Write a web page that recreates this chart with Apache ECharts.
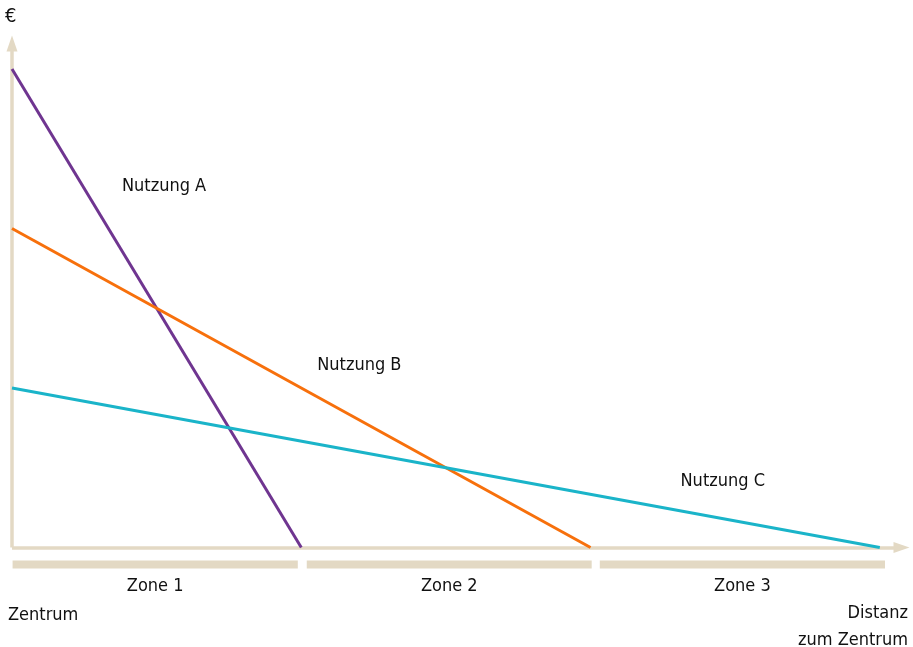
<!DOCTYPE html>
<html>
<head>
<meta charset="utf-8">
<script src="https://cdn.jsdelivr.net/npm/echarts@6/dist/echarts.min.js"></script>
<style>
html,body{margin:0;padding:0;background:#fff;}
#chart{width:913px;height:647px;}
</style>
</head>
<body>
<div id="chart"></div>
<script>
// ---- data ----
const seriesNames = ['Nutzung A', 'Nutzung B', 'Nutzung C'];
const rentAtCenter = [3, 2, 1];       // value at distance 0
const maxDistance = [1, 2, 3];        // distance where value reaches 0
const labelX = [0.38, 1.055, 2.311];
const labelY = [2.266, 1.144, 0.417];
const zoneNames = ['Zone 1', 'Zone 2', 'Zone 3'];
const zoneStart = [0.002, 1.019, 2.032];
const zoneEnd = [0.988, 2.004, 3.018];

// ---- style ----
const axisColor = '#e3d9c4';
const textColor = '#111111';
const lineColors = ['#6f3590', '#f7700c', '#1ab4c9'];
const FONT = '"DejaVu Sans Condensed", "Liberation Sans Narrow", "Liberation Sans", sans-serif';
const FS = 18;

const X_MAX = 3.075, Y_MAX = 3.16;

const chart = echarts.init(document.getElementById('chart'));

const lineSeries = seriesNames.map((n, i) => ({
  name: n,
  type: 'line',
  xAxisIndex: 0, yAxisIndex: 0,
  data: [[0, rentAtCenter[i]], [maxDistance[i], 0]],
  symbol: 'none',
  lineStyle: { color: lineColors[i], width: 3 },
  silent: true,
  z: 3
}));

const axisLineStyle = {
  show: true, onZero: false, symbol: ['none', 'triangle'], symbolSize: [11, 16],
  lineStyle: { color: axisColor, width: 3.5, cap: 'butt' }
};

const option = {
  animation: false,
  textStyle: { fontFamily: FONT },
  grid: [
    { left: 12, top: 43.5, width: 889.5, height: 504 },
    { left: 12, top: 560.5, width: 889.5, height: 8 }
  ],
  xAxis: [
    {
      type: 'value', gridIndex: 0, min: 0, max: X_MAX,
      axisLine: axisLineStyle,
      axisTick: { show: false }, axisLabel: { show: false }, splitLine: { show: false }
    },
    { type: 'value', gridIndex: 1, min: 0, max: X_MAX, show: false }
  ],
  yAxis: [
    {
      type: 'value', gridIndex: 0, min: 0, max: Y_MAX,
      axisLine: axisLineStyle,
      axisTick: { show: false }, axisLabel: { show: false }, splitLine: { show: false }
    },
    { type: 'value', gridIndex: 1, min: 0, max: 1, show: false }
  ],
  series: lineSeries.concat([
    {
      type: 'custom',
      xAxisIndex: 0, yAxisIndex: 0,
      silent: true,
      data: seriesNames.map((n, i) => [labelX[i], labelY[i]]),
      renderItem: function (params, api) {
        const p = api.coord([api.value(0), api.value(1)]);
        return { type: 'text', style: { text: seriesNames[params.dataIndex], x: p[0], y: p[1],
          align: 'left', verticalAlign: 'middle', fill: textColor, fontSize: FS, fontFamily: FONT } };
      },
      z: 4
    },
    {
      type: 'custom',
      xAxisIndex: 1, yAxisIndex: 1,
      silent: true,
      data: zoneNames.map((n, i) => [zoneStart[i], zoneEnd[i]]),
      renderItem: function (params, api) {
        const p0 = api.coord([api.value(0), 1]);
        const p1 = api.coord([api.value(1), 0]);
        return {
          type: 'group',
          children: [
            { type: 'rect', shape: { x: p0[0], y: p0[1], width: p1[0] - p0[0], height: p1[1] - p0[1] },
              style: { fill: axisColor } },
            { type: 'text', style: { text: zoneNames[params.dataIndex], x: (p0[0] + p1[0]) / 2, y: p1[1] + 18,
              align: 'center', verticalAlign: 'middle', fill: textColor, fontSize: FS, fontFamily: FONT } }
          ]
        };
      }
    }
  ]),
  graphic: [
    { type: 'text', left: 5, top: 7, style: { text: '€', fill: textColor, fontSize: 20, fontFamily: FONT } },
    { type: 'text', left: 8, top: 606, style: { text: 'Zentrum', fill: textColor, fontSize: FS, fontFamily: FONT } },
    { type: 'text', right: 5, top: 604, style: { text: 'Distanz', fill: textColor, fontSize: FS, fontFamily: FONT } },
    { type: 'text', right: 5, top: 631, style: { text: 'zum Zentrum', fill: textColor, fontSize: FS, fontFamily: FONT } }
  ]
};
chart.setOption(option);
</script>
</body>
</html>
